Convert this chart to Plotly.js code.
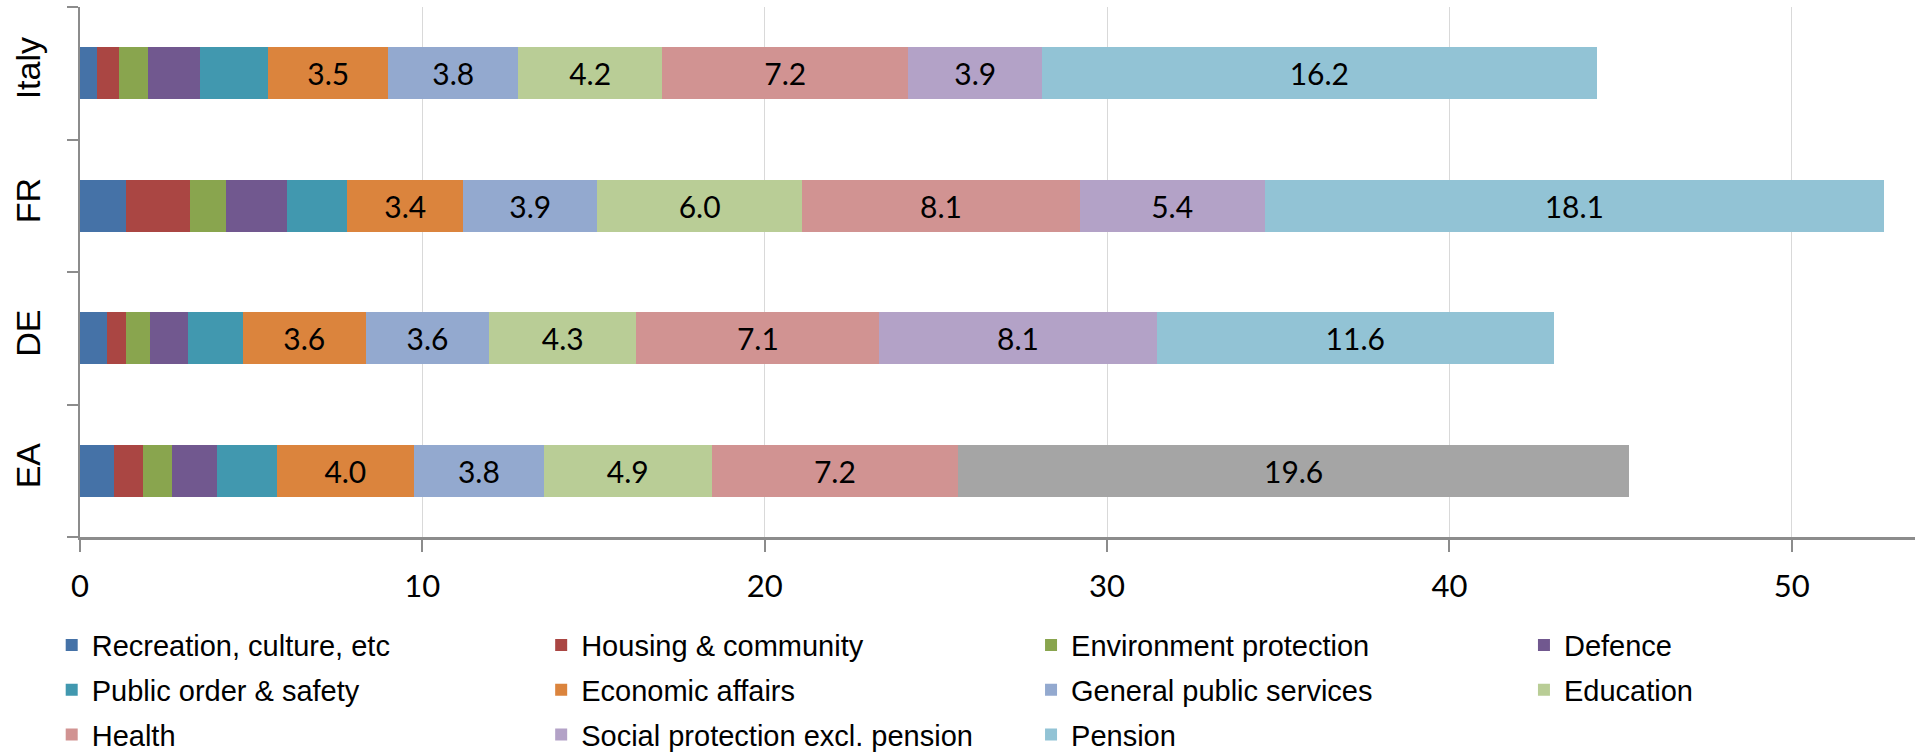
<!DOCTYPE html>
<html>
<head>
<meta charset="utf-8">
<script src="https://cdn.plot.ly/plotly-3.0.1.min.js"></script>
<style>
html,body{margin:0;padding:0;background:#fff;}
#chart{width:1915px;height:752px;}
</style>
</head>
<body>
<div id="chart"></div>
<script>
// Categories (bottom to top)
var categories = ['EA', 'DE', 'FR', 'Italy'];

// Series values (% of GDP), same order as categories
var recreation   = [1.0, 0.8, 1.35, 0.5];
var housing      = [0.85, 0.55, 1.85, 0.65];
var environment  = [0.85, 0.7, 1.05, 0.85];
var defence      = [1.3, 1.1, 1.8, 1.5];
var publicOrder  = [1.75, 1.6, 1.75, 2.0];
var economic     = [4.0, 3.6, 3.4, 3.5];
var generalPub   = [3.8, 3.6, 3.9, 3.8];
var education    = [4.9, 4.3, 6.0, 4.2];
var health       = [7.2, 7.1, 8.1, 7.2];
var socialExcl   = [null, 8.1, 5.4, 3.9];
var pension      = [null, 11.6, 18.1, 16.2];
var socialIncl   = [19.6, null, null, null];

var seriesNames = ['Recreation, culture, etc', 'Housing & community', 'Environment protection',
  'Defence', 'Public order & safety', 'Economic affairs', 'General public services',
  'Education', 'Health', 'Social protection excl. pension', 'Pension', 'Social protection incl. pension'];

var xTicks = [0, 10, 20, 30, 40, 50];

var seriesValues = [recreation, housing, environment, defence, publicOrder, economic,
  generalPub, education, health, socialExcl, pension, socialIncl];
var colors = ['#4572A7', '#AA4643', '#89A54E', '#71588F', '#4198AF', '#DB843D',
  '#93A9CF', '#B9CD96', '#D19392', '#B3A2C7', '#92C3D5', '#A5A5A5'];
var labelled = [false, false, false, false, false, true, true, true, true, true, true, true];
var inLegend = [true, true, true, true, true, true, true, true, true, true, true, false];
var legendOf = ['legend', 'legend2', 'legend3', 'legend4', 'legend', 'legend2', 'legend3',
  'legend4', 'legend', 'legend2', 'legend3', 'legend'];

var traces = seriesValues.map(function (vals, i) {
  return {
    type: 'bar',
    orientation: 'h',
    name: seriesNames[i],
    y: categories,
    x: vals,
    marker: {color: colors[i], line: {width: 0}},
    texttemplate: labelled[i] ? '%{x:.1f}' : '',
    textposition: labelled[i] ? 'inside' : 'none',
    insidetextanchor: 'middle',
    textangle: 0,
    constraintext: 'none',
    textfont: {family: 'Lato, "Open Sans", sans-serif', size: 30, color: '#000000'},
    legend: legendOf[i],
    legendgroup: 'g' + i,
    showlegend: inLegend[i],
    hoverinfo: 'x+name'
  };
});

var legendBase = {
  xref: 'container', yref: 'container',
  xanchor: 'left', yanchor: 'top',
  y: 0.176,
  orientation: 'v',
  traceorder: 'grouped',
  tracegroupgap: 4,
  itemwidth: 30,
  bgcolor: 'rgba(0,0,0,0)',
  borderwidth: 0,
  font: {family: '"Liberation Sans", Arial, sans-serif', size: 29, color: '#000000'}
};
function leg(x) { var o = JSON.parse(JSON.stringify(legendBase)); o.x = x; return o; }

var layout = {
  width: 1915,
  height: 752,
  margin: {l: 80, r: 0, t: 7, b: 215, autoexpand: false},
  paper_bgcolor: '#ffffff',
  plot_bgcolor: '#ffffff',
  barmode: 'stack',
  bargap: 0.605,
  showlegend: true,
  xaxis: {
    range: [0, 53.6],
    tickvals: xTicks,
    ticktext: xTicks.map(String),
    showgrid: true,
    gridcolor: '#d9d9d9',
    gridwidth: 1,
    zeroline: false,
    showline: true,
    linecolor: '#8c8c8c',
    linewidth: 3,
    ticks: 'outside',
    ticklen: 12,
    tickwidth: 2,
    tickcolor: '#8c8c8c',
    ticklabelstandoff: 8,
    tickfont: {family: 'Lato, "Open Sans", sans-serif', size: 31, color: '#000000'},
    fixedrange: true
  },
  yaxis: {
    type: 'category',
    categoryorder: 'array',
    categoryarray: categories,
    showgrid: false,
    zeroline: false,
    showline: true,
    linecolor: '#8c8c8c',
    linewidth: 2,
    ticks: 'outside',
    tickson: 'boundaries',
    ticklen: 11,
    tickwidth: 2,
    tickcolor: '#8c8c8c',
    tickangle: -90,
    ticklabelstandoff: 24,
    tickfont: {family: '"Liberation Sans Narrow", "Arial Narrow", "Liberation Sans", sans-serif', size: 34, color: '#000000'},
    fixedrange: true
  },
  legend: leg(0.027),
  legend2: leg(0.2826),
  legend3: leg(0.5384),
  legend4: leg(0.7958)
};

Plotly.newPlot('chart', traces, layout, {displayModeBar: false, staticPlot: true});
</script>
</body>
</html>
